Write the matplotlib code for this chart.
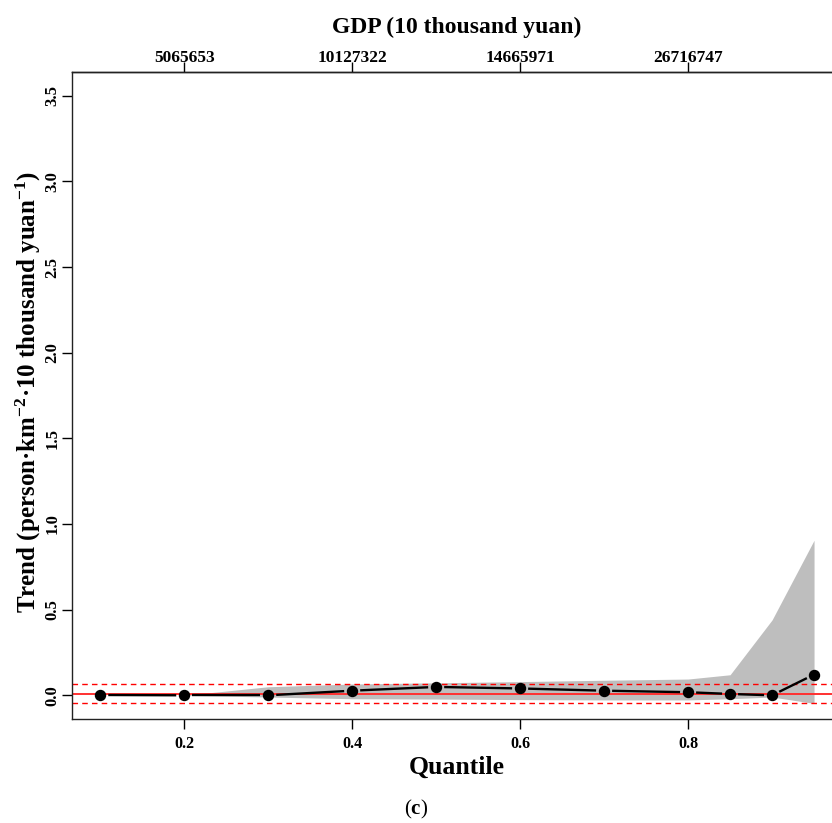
import numpy as np
import matplotlib
matplotlib.use('Agg')
import matplotlib.pyplot as plt

# quantile regression trend of population density on GDP
quantiles = [0.1, 0.2, 0.3, 0.4, 0.5, 0.6, 0.7, 0.8, 0.85, 0.9, 0.95]
trend = [0.002, 0.0, 0.0, 0.027, 0.049, 0.040, 0.027, 0.018, 0.008, 0.0, 0.121]
ci_low = [0.0, 0.0, -0.010, -0.020, -0.022, -0.025, -0.027, -0.027, -0.020, -0.010, -0.047]
ci_high = [0.0, 0.0, 0.050, 0.066, 0.073, 0.080, 0.088, 0.095, 0.120, 0.440, 0.905]
ols_est = 0.01
ols_ci = [-0.047, 0.067]
gdp_ticks = [0.2, 0.4, 0.6, 0.8]
gdp_labels = ['5065653', '10127322', '14665971', '26716747']
y_ticks = [0.0, 0.5, 1.0, 1.5, 2.0, 2.5, 3.0, 3.5]

plt.rcParams['font.family'] = ['Liberation Serif', 'DejaVu Serif']
plt.rcParams['font.weight'] = 'bold'
plt.rcParams['mathtext.fontset'] = 'custom'
plt.rcParams['mathtext.rm'] = 'Liberation Serif:bold'
plt.rcParams['mathtext.it'] = 'Liberation Serif:bold'
plt.rcParams['mathtext.bf'] = 'Liberation Serif:bold'

W, H = 832, 823
fig = plt.figure(figsize=(W / 100, H / 100), dpi=100)
# axes box runs past the right edge, as in the cropped original
x0, x1, y0, y1 = 71.7, 842.6, 71.7, 719.3
ax = fig.add_axes([x0 / W, 1 - y1 / H, (x1 - x0) / W, (y1 - y0) / H])

xr = max(quantiles) - min(quantiles)
ax.set_xlim(min(quantiles) - 0.04 * xr, max(quantiles) + 0.04 * xr)
ax.set_ylim(-0.04 * 3.5, 3.5 * 1.04)

ax.fill_between(quantiles, ci_low, ci_high, color='#bebebe', linewidth=0, zorder=1)
ax.axhline(ols_est, color='#ff3030', lw=1.4, zorder=2)
for v in ols_ci:
    ax.axhline(v, color='red', lw=1.0, ls=(0, (4, 3)), zorder=2)

# R type="b": line segments with gaps around points
pts = ax.transData.transform(np.column_stack([quantiles, trend]))
gap = 8
for p, q in zip(pts[:-1], pts[1:]):
    d = q - p
    L = np.hypot(*d)
    if L <= 2 * gap:
        continue
    u = d / L
    a, b = ax.transData.inverted().transform([p + u * gap, q - u * gap])
    ax.plot([a[0], b[0]], [a[1], b[1]], color='black', lw=1.7, zorder=3,
            solid_capstyle='butt')
ax.plot(quantiles, trend, 'o', color='black', ms=7.2, zorder=4)

ax.set_xticks([0.2, 0.4, 0.6, 0.8])
ax.set_xticklabels(['0.2', '0.4', '0.6', '0.8'], fontsize=11.5, fontweight='bold')
ax.set_yticks(y_ticks)
ax.set_yticklabels([f'{v:.1f}' for v in y_ticks], fontsize=12, fontweight='bold',
                   rotation=90, va='center')
ax.tick_params(direction='out', length=7, width=1)
ax.tick_params(axis='x', pad=5)
ax.tick_params(axis='y', pad=1)

top = ax.secondary_xaxis('top')
top.set_xticks(gdp_ticks)
top.set_xticklabels(gdp_labels, fontsize=12.5, fontweight='bold')
top.tick_params(direction='out', length=7, width=1, pad=-3)
top.set_xlabel('GDP (10 thousand yuan)', fontsize=17, fontweight='bold', labelpad=12)

for s in ax.spines.values():
    s.set_linewidth(1.0)
    s.set_color('#222222')
top.spines['top'].set_linewidth(1.0)

ax.set_xlabel('Quantile', fontsize=18.5, fontweight='bold', labelpad=3)
ax.set_ylabel('Trend (person·km$^{-2}$·10 thousand yuan$^{-1}$)',
              fontsize=18, fontweight='bold', va='center')
ax.yaxis.set_label_coords((28 - x0) / (x1 - x0), 0.505)

fig.text(416 / W, 1 - 809 / H, r'(${\bf c}$)', ha='center', va='center',
         fontsize=15, fontweight='normal')

fig.savefig('out.png', dpi=100)
